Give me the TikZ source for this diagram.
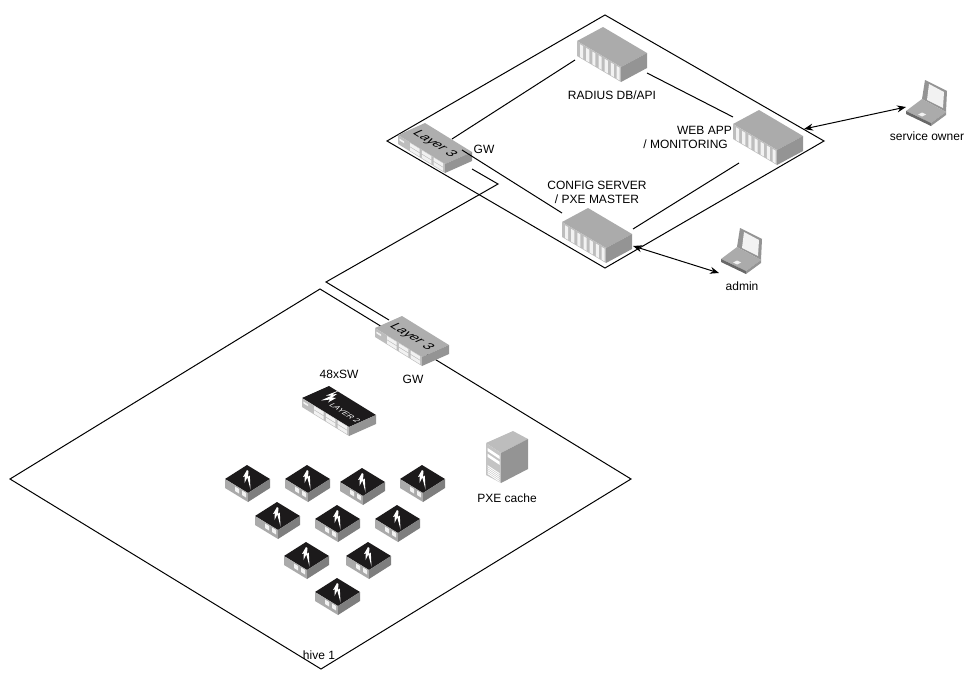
\documentclass[tikz,border=0pt]{standalone}
\usepackage{fontspec}
\setmainfont{Liberation Sans}
\usetikzlibrary{arrows.meta, positioning}
\definecolor{cTopGrey}{HTML}{ABABAB}
\definecolor{cFaceGrey}{HTML}{BDBDBD}
\definecolor{cSideGrey}{HTML}{949494}
\definecolor{cSlat}{HTML}{F2F2F2}
\definecolor{cIconBlack}{HTML}{1C1A1B}
\newcommand{\switchbody}[1]{
  \fill[#1] (0,0) -- (-27,12) -- (20,41) -- (47,29) -- cycle;
  \fill[cFaceGrey] (-27,12) -- (20,41) -- (20,50) -- (-27,21) -- cycle;
  \fill[cSideGrey] (20,41) -- (47,29) -- (47,38) -- (20,50) -- cycle;
  \begin{scope}[shift={(-27,12)}, x={(47pt,-29pt)}, y={(0pt,-9pt)}]
    \fill[cSlat] (.03,.3) -- (.13,.3) -- (.13,.5) -- (.03,.5) -- cycle;
    \foreach \u in {.26,.51,.76} {
      \fill[cSlat] (\u,.06) -- ({\u+.2},.06) -- ({\u+.2},.44) -- (\u,.44) -- cycle;
      \fill[cSlat] (\u,.54) -- ({\u+.2},.54) -- ({\u+.2},.92) -- (\u,.92) -- cycle;
    }
  \end{scope}
}
\tikzset{
  font=\fontsize{12}{14}\selectfont,
  plane/.style={draw=black, line width=1pt, line join=miter},
  wire/.style={draw=black, line width=1pt},
  duplex/.style={{Stealth[length=9pt, width=7pt]}-{Stealth[length=9pt, width=7pt]}, draw=black, line width=1pt},
  hostlabel/.style={inner sep=0pt, align=center, text=black},
  facetext/.style={inner sep=0pt, transform shape},
  pics/servericon/.style={code={
    \fill[cTopGrey] (0,0) -- (-26,14) -- (18,40) -- (44,26) -- cycle;
    \fill[cFaceGrey] (-26,14) -- (18,40) -- (18,55) -- (-26,29) -- cycle;
    \fill[cSideGrey] (18,40) -- (44,26) -- (44,41) -- (18,55) -- cycle;
    \begin{scope}[shift={(-26,14)}, x={(44pt,-26pt)}, y={(0pt,-15pt)}]
      \foreach \u in {.07,.21,.35,.49,.63,.77,.90} {
        \fill[cSlat] (\u,.1) -- ({\u+.07},.1) -- ({\u+.07},.95) -- (\u,.95) -- cycle;
      }
    \end{scope}
  }},
  pics/layerthree/.style={code={
    \switchbody{cFaceGrey!92!black}
    \begin{scope}[cm={0.855,-0.527,0.91,0.41,(9.5pt,-21pt)}]
      \node[facetext, font=\fontsize{13.5}{14}\selectfont] (-tag) at (0pt,0pt) {Layer 3};
    \end{scope}
  }},
  pics/layertwo/.style={code={
    \switchbody{cIconBlack}
    \fill[white] (11,4) -- (-3,9.5) -- (3,9.5) -- (-8,14.5) -- (1,13.5) -- (-1,16.5) -- (7,12) -- (3,11.5) -- (8,8) -- (3,8.5) -- cycle;
    \begin{scope}[cm={0.855,-0.527,0.91,0.41,(16pt,-27pt)}]
      \node[facetext, text=white, font=\fontsize{8}{10}\selectfont] (-tag) at (0pt,0pt) {LAYER 2};
    \end{scope}
  }},
  pics/hubicon/.style={code={
    \fill[cIconBlack] (0,0) -- (-22,14) -- (1,28) -- (23,14) -- cycle;
    \fill[cFaceGrey!90!black] (-22,14) -- (1,28) -- (1,37) -- (-22,23) -- cycle;
    \fill[cSideGrey!85!black] (1,28) -- (23,14) -- (23,23) -- (1,37) -- cycle;
    \fill[cSlat] (-12,21.5) -- (-8,24) -- (-8,28.5) -- (-12,26) -- cycle;
    \fill[cSlat] (-5,25.5) -- (-1,28) -- (-1,32.5) -- (-5,30) -- cycle;
    \fill[white] (0,5) -- (-4,12) -- (-2.2,11.5) -- (-2.5,18) -- (0.3,12.5) -- (3.5,24.5) -- (2.8,10.5) -- (1,12) -- (1.5,6) -- cycle;
  }},
  pics/towericon/.style={code={
    \fill[cFaceGrey] (0,0) -- (-27,12) -- (-12,22) -- (15,8) -- cycle;
    \fill[cFaceGrey!90!white] (-27,12) -- (-12,22) -- (-12,52) -- (-27,44) -- cycle;
    \fill[cSideGrey] (-12,22) -- (15,8) -- (15,38) -- (-12,52) -- cycle;
    \begin{scope}[shift={(-27,12)}, x={(15pt,-10pt)}, y={(0pt,-32pt)}]
      \foreach \v in {.12,.3} {
        \fill[white] (.1,\v) -- (.9,\v) -- (.9,{\v+.1}) -- (.1,{\v+.1}) -- cycle;
      }
      \foreach \v in {.66,.72,.78,.84,.90} {
        \fill[white] (.1,\v) -- (.9,\v) -- (.9,{\v+.035}) -- (.1,{\v+.035}) -- cycle;
      }
    \end{scope}
  }},
  pics/laptopicon/.style={code={
    \fill[cSideGrey] (16,-12) -- (19,-31) -- (41,-20) -- (40,1) -- cycle;
    \fill[cSlat] (21,-11) -- (23,-27) -- (38,-19) -- (37,-3) -- cycle;
    \fill[cTopGrey] (0,0) -- (16,-12) -- (40,1) -- (25,12) -- cycle;
    \fill[cSideGrey!70!black] (0,0) -- (25,12) -- (25,15) -- (0,3) -- cycle;
    \fill[cSideGrey] (25,12) -- (40,1) -- (40,4) -- (25,15) -- cycle;
    \fill[cSlat] (12,3.5) -- (16,1.5) -- (20,3.5) -- (16,5.5) -- cycle;
  }},
}
\begin{document}
\begin{tikzpicture}[x=1pt, y=-1pt]
  \useasboundingbox (0,0) rectangle (975,680);

  % ----------------------------------------------------------------
  % Planes
  % ----------------------------------------------------------------
  \draw[plane] (605,15) -- (824,141) -- (605,268) -- (387,141) -- cycle;
  \draw[plane] (320,289) -- (631,479) -- (321,669) -- (10,479) -- cycle;

  % ----------------------------------------------------------------
  % Management plane: hosts
  % ----------------------------------------------------------------
  \pic (radius) at (603,27) {servericon};
  \pic (webapp) at (759,110) {servericon};
  \pic (config) at (588,208) {servericon};
  \pic (gwtop) at (425,123) {layerthree};

  \node[hostlabel] (radiuslabel) at (612,95) {RADIUS DB/API};
  \node[hostlabel, align=right, anchor=east] (webapplabel) at (732,137) {WEB APP\\/ MONITORING\hspace*{4pt}};
  \node[hostlabel] (configlabel) at (597,192) {CONFIG SERVER\\/ PXE MASTER};
  \node[hostlabel] (gwtoplabel) at (484,149) {GW};

  % ----------------------------------------------------------------
  % Users
  % ----------------------------------------------------------------
  \pic (owner) at (906,111) {laptopicon};
  \pic (admin) at (721,259) {laptopicon};
  \node[hostlabel] (ownerlabel) at (927,136) {service owner};
  \node[hostlabel] (adminlabel) at (742,286) {admin};

  % ----------------------------------------------------------------
  % Hive: hosts
  % ----------------------------------------------------------------
  \pic (gwhive) at (402,316) {layerthree};
  \pic (swcore) at (329,386) {layertwo};
  \pic (cache) at (513,431) {towericon};
  \foreach \name/\px/\py in {hub1/247/465, hub2/307/465, hub3/362/468, hub4/422/465,
      hub5/277/502, hub6/337/505, hub7/397/505, hub8/306/542, hub9/368/542, hub10/337/578} {
    \pic (\name) at (\px,\py) {hubicon};
  }

  \node[hostlabel] (swcorelabel) at (339,374) {48xSW};
  \node[hostlabel] (gwhivelabel) at (413,379) {GW};
  \node[hostlabel] (cachelabel) at (507,498) {PXE cache};
  \node[hostlabel] (hivelabel) at (319,655) {hive 1};

  % ----------------------------------------------------------------
  % Links
  % ----------------------------------------------------------------
  \coordinate (gwtopN) at (452,139);
  \coordinate (gwtopE) at (462,150);
  \coordinate (gwtopS) at (472,169);
  \coordinate (radiusW) at (575,60);
  \coordinate (radiusE) at (647,73);
  \coordinate (webappN) at (733,117);
  \coordinate (webappS) at (739,163);
  \coordinate (configN) at (562,213);
  \coordinate (configE) at (633,229);
  \coordinate (uplinkA) at (498,184);
  \coordinate (uplinkB) at (326,282);
  \coordinate (gwhiveN) at (389,320);

  \draw[wire] (gwtopN) -- (radiusW);
  \draw[wire] (radiusE) -- (webappN);
  \draw[wire] (webappS) -- (configE);
  \draw[wire] (gwtopE) -- (configN);
  \draw[wire] (gwtopS) -- (uplinkA) -- (uplinkB) -- (gwhiveN);

  \coordinate (webappport) at (804,129);
  \coordinate (ownerport) at (906,107);
  \coordinate (configport) at (633,246);
  \coordinate (adminport) at (719,273);

  \draw[duplex] (webappport) -- (ownerport);
  \draw[duplex] (configport) -- (adminport);

\end{tikzpicture}
\end{document}
